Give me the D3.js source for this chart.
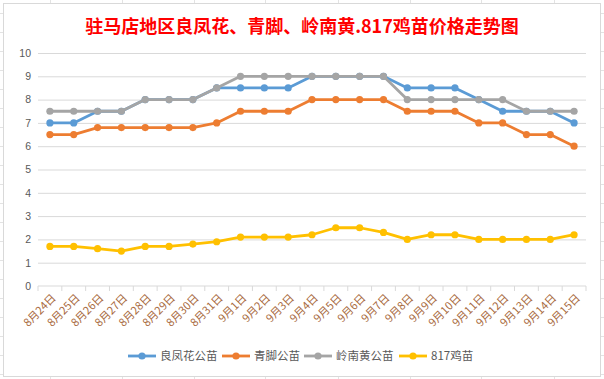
<!DOCTYPE html>
<html>
<head>
<meta charset="utf-8">
<script src="https://cdn.jsdelivr.net/npm/d3@7"></script>
<style>
  html, body { margin: 0; padding: 0; background: #fff; }
  svg { display: block; font-family: "Noto Sans CJK SC", "Noto Sans", sans-serif; }
</style>
</head>
<body>
<svg id="chart"></svg>
<script>
// data
var categories = ["8月24日","8月25日","8月26日","8月27日","8月28日","8月29日","8月30日","8月31日",
  "9月1日","9月2日","9月3日","9月4日","9月5日","9月6日","9月7日","9月8日","9月9日","9月10日",
  "9月11日","9月12日","9月13日","9月14日","9月15日"];
var liangfeng = [7,7,7.5,7.5,8,8,8,8.5,8.5,8.5,8.5,9,9,9,9,8.5,8.5,8.5,8,7.5,7.5,7.5,7];
var qingjiao = [6.5,6.5,6.8,6.8,6.8,6.8,6.8,7,7.5,7.5,7.5,8,8,8,8,7.5,7.5,7.5,7,7,6.5,6.5,6];
var lingnan = [7.5,7.5,7.5,7.5,8,8,8,8.5,9,9,9,9,9,9,9,8,8,8,8,8,7.5,7.5,7.5];
var ji817 = [1.7,1.7,1.6,1.5,1.7,1.7,1.8,1.9,2.1,2.1,2.1,2.2,2.5,2.5,2.3,2.0,2.2,2.2,2.0,2.0,2.0,2.0,2.2];
var seriesNames = ["良凤花公苗","青脚公苗","岭南黄公苗","817鸡苗"];
var yTicks = [0,1,2,3,4,5,6,7,8,9,10];
var title = "驻马店地区良凤花、青脚、岭南黄.817鸡苗价格走势图";

var series = [
  {name: seriesNames[0], values: liangfeng, color: "#5B9BD5"},
  {name: seriesNames[1], values: qingjiao, color: "#ED7D31"},
  {name: seriesNames[2], values: lingnan, color: "#A5A5A5"},
  {name: seriesNames[3], values: ji817, color: "#FFC000"}
];

var width = 604, height = 379;
var marginLeft = 38, marginRight = 18;

var svg = d3.select("#chart")
    .attr("width", width)
    .attr("height", height)
    .attr("viewBox", [0, 0, width, height]);

// spreadsheet cells behind the chart object
var cells = svg.append("g").attr("stroke", "#e3e3e3").attr("stroke-width", 1);
cells.selectAll("line.row").data(d3.range(13, height, 19)).join("line")
    .attr("x1", 0).attr("x2", width)
    .attr("y1", d => d + 0.5).attr("y2", d => d + 0.5);
cells.selectAll("line.col").data([50, 122, 194, 265, 338, 410, 481, 554]).join("line")
    .attr("y1", 0).attr("y2", height)
    .attr("x1", d => d + 0.5).attr("x2", d => d + 0.5);

svg.append("rect")
    .attr("x", 3.5).attr("y", 3.5)
    .attr("width", 597).attr("height", 373)
    .attr("fill", "#fff")
    .attr("stroke", "#d9d9d9");

// title
svg.append("text")
    .attr("x", 302).attr("y", 33)
    .attr("text-anchor", "middle")
    .attr("fill", "#ff0000")
    .attr("font-size", 18)
    .attr("font-weight", "bold")
    .text(title);

var x = d3.scalePoint(categories, [marginLeft, width - marginRight]).padding(0.5);
var band = d3.scaleBand(categories, [marginLeft, width - marginRight]);
var y = d3.scaleLinear([0, 10], [286, 53]);

// horizontal grid lines + y labels
svg.append("g")
    .attr("transform", `translate(${marginLeft},0)`)
    .call(d3.axisLeft(y).tickValues(yTicks).tickSize(0).tickPadding(7))
    .call(g => g.select(".domain").remove())
    .call(g => g.selectAll(".tick text").attr("fill", "#595959").attr("font-size", 10.5))
    .call(g => g.selectAll(".tick").filter(d => d !== 0).append("line")
        .attr("x2", width - marginLeft - marginRight)
        .attr("stroke", "#d9d9d9"));

// x axis: line, ticks between categories, rotated labels
var xAxis = svg.append("g").attr("transform", "translate(0,286)");
xAxis.append("line")
    .attr("x1", marginLeft).attr("x2", width - marginRight)
    .attr("stroke", "#d9d9d9");
xAxis.selectAll("line.tk")
    .data(categories.concat([null]))
    .join("line")
    .attr("class", "tk")
    .attr("x1", d => d ? band(d) : width - marginRight)
    .attr("x2", d => d ? band(d) : width - marginRight)
    .attr("y1", 0).attr("y2", 5)
    .attr("stroke", "#d9d9d9");
xAxis.selectAll("text")
    .data(categories)
    .join("text")
    .attr("transform", d => `translate(${x(d) + 4},${10}) rotate(-45)`)
    .attr("text-anchor", "end")
    .attr("dy", "0.35em")
    .attr("fill", "#a86a3e")
    .attr("font-size", 11)
    .text(d => d);

// lines and markers
var line = d3.line()
    .x((d, i) => x(categories[i]))
    .y(d => y(d));

series.forEach(function(s) {
  var g = svg.append("g");
  g.append("path")
      .attr("fill", "none")
      .attr("stroke", s.color)
      .attr("stroke-width", 2.8)
      .attr("stroke-linejoin", "round")
      .attr("d", line(s.values));
  g.selectAll("circle")
      .data(s.values)
      .join("circle")
      .attr("cx", (d, i) => x(categories[i]))
      .attr("cy", d => y(d))
      .attr("r", 3.6)
      .attr("fill", s.color);
});

// legend
var legendX = [128, 222, 304, 399];
var legend = svg.append("g").attr("transform", "translate(0,356)");
series.forEach(function(s, i) {
  var item = legend.append("g").attr("transform", `translate(${legendX[i]},0)`);
  item.append("line")
      .attr("x1", 0).attr("x2", 28)
      .attr("stroke", s.color).attr("stroke-width", 2.8);
  item.append("circle").attr("cx", 14).attr("r", 3.6).attr("fill", s.color);
  item.append("text")
      .attr("x", 32).attr("dy", "0.35em")
      .attr("fill", "#595959")
      .attr("font-size", 11.5)
      .text(s.name);
});
</script>
</body>
</html>
